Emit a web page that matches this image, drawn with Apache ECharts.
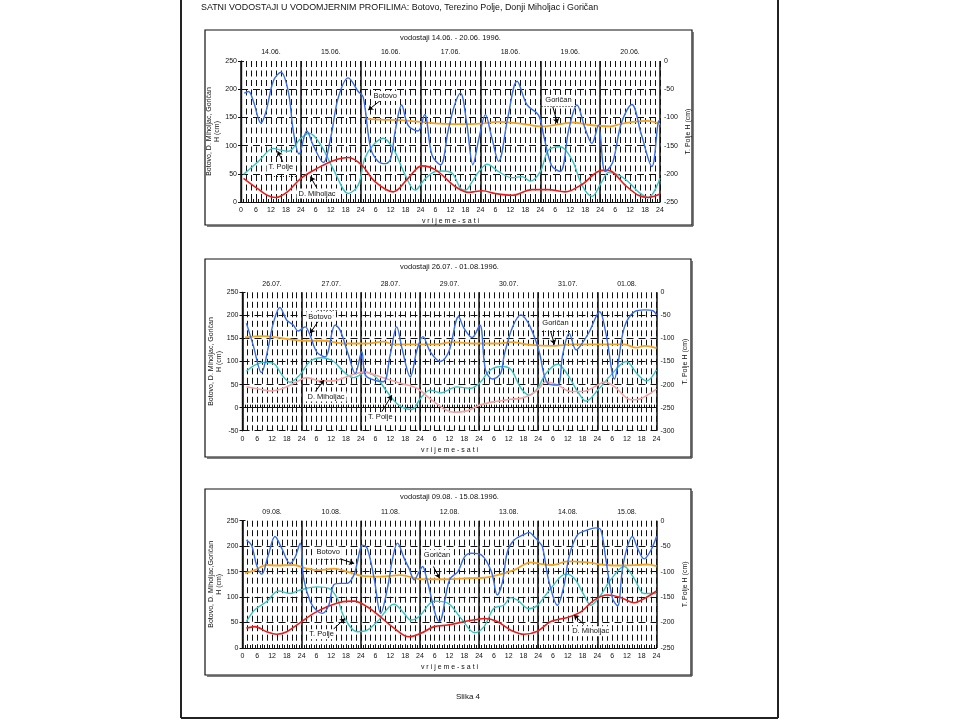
<!DOCTYPE html>
<html>
<head>
<meta charset="utf-8">
<script src="https://cdn.jsdelivr.net/npm/echarts@6/dist/echarts.min.js"></script>
<style>
  html, body { margin: 0; padding: 0; background: #fff; }
  #main { width: 958px; height: 720px; }
</style>
</head>
<body>
<div id="main"></div>
<script>
// tick labels / categories
const datesJun = ['14.06.', '15.06.', '16.06.', '17.06.', '18.06.', '19.06.', '20.06.'];
const datesJul = ['26.07.', '27.07.', '28.07.', '29.07.', '30.07.', '31.07.', '01.08.'];
const datesAug = ['09.08.', '10.08.', '11.08.', '12.08.', '13.08.', '14.08.', '15.08.'];

// [hour from start of week, H (cm)]
const botovoJun = [[1.3,193],[3,196],[5,178],[8,140],[10,160],[13,215],[16,230],[19,195],[21,125],[23.3,85],[26.4,126],[29,100],[33,70],[36,115],[39,185],[43,220],[47,196],[49,186],[52,95],[55,72],[58,68],[60,77],[62,130],[64.4,172],[67,136],[71,126],[73.6,155],[76.6,83],[80,66],[83,125],[85.5,170],[88,193],[90.5,140],[93,66],[95.5,115],[98,155],[100.5,115],[103.3,72],[107,150],[110.7,214],[114.7,172],[119.3,154],[121.5,115],[124.5,65],[128,54],[131.5,130],[134.7,172],[138,130],[140.7,104],[143.3,136],[146,54],[149,70],[152.5,140],[156.7,173],[160.5,120],[164.7,63],[167.3,142],[168,145]];
const goricanJun = [[49.5,148],[56,146],[64,145],[72,142],[80,139],[88,138],[96,139],[103,142],[112,139],[121,134],[128,138],[133,141],[139,137],[144,135],[148,134],[152,138],[157,142],[163,144],[168,138]];
const tpoljeJun = [[1,-201],[7,-178],[13,-155],[16,-158],[19,-160],[24,-137],[27.4,-128],[32,-149],[37.5,-196],[43,-235],[47,-220],[49.6,-173],[53,-149],[57,-137],[61,-155],[65.8,-202],[69.8,-229],[74,-208],[78,-196],[80.6,-195],[84.7,-199],[88,-226],[90,-229],[92.7,-214],[95.4,-196],[98.7,-183],[103.3,-196],[108.7,-207],[112.7,-205],[116,-213],[120,-196],[123.3,-158],[128,-152],[132.7,-175],[136.7,-220],[140.7,-240],[144.7,-214],[147.3,-198],[151.3,-202],[155.3,-214],[159.3,-232],[163.3,-242],[168,-208]];
const miholjacJun = [[1,42],[6.5,24],[10.5,12],[14,8],[18.6,18],[24,42],[30.7,60],[37.5,74],[43,79],[48.3,66],[53.7,36],[61,18],[67,42],[72.5,64],[78,57],[86,27],[91.4,17],[96.8,20],[102,15],[108.7,12],[116.7,22],[123.3,22],[130,18],[136.7,31],[144.7,56],[147.3,56],[154,30],[159.3,12],[163.3,8],[168,14]];

const botovoJul = [[1.6,183],[4.3,136],[7.7,76],[10.4,129],[12.5,183],[15.2,217],[17.9,190],[20.6,179],[22.6,166],[25.4,175],[27.4,157],[30.1,121],[33.5,110],[37.6,179],[39.6,168],[43,114],[45.7,74],[48.4,121],[49.8,71],[53.2,60],[57.2,56],[59.9,114],[62.6,175],[64.7,129],[68.1,67],[70.8,125],[73.2,154],[76.2,121],[80.3,100],[83.7,121],[87.7,197],[89.8,173],[93.2,152],[96.3,179],[98.6,82],[101.5,62],[104.7,74],[106.2,114],[109.6,175],[113,201],[115.7,186],[118.4,154],[120.4,121],[123.8,53],[127.9,49],[129.9,114],[132.6,161],[135.4,125],[137.4,136],[140.8,165],[144.9,208],[147.6,157],[151,62],[152.3,92],[155,175],[159.1,208],[163.2,212],[166.6,210],[168,201]];
const goricanJul = [[1,152],[8.4,155],[16.5,150],[24.7,145],[32.8,145],[41,139],[50.4,139],[57.2,143],[61.3,137],[70.8,137],[77.6,137],[85.7,142],[93.8,139],[103.5,139],[108.9,142],[117,136],[126.5,134],[133.3,137],[140.1,137],[149.6,137],[155,137],[159.8,130],[163.2,134],[168,129]];
const tpoljeJul = [[1.6,-171],[4.3,-160],[8.4,-152],[12.5,-154],[16,-179],[19.3,-195],[23.3,-179],[27.4,-150],[32,-142],[37,-150],[41,-172],[45,-185],[50.4,-173],[54.5,-186],[58.6,-215],[63.3,-244],[68.7,-254],[72.2,-230],[76.2,-212],[80.3,-218],[87,-205],[92.5,-208],[96.5,-195],[100.6,-168],[105.5,-161],[109,-168],[113,-208],[116.4,-223],[119.8,-208],[123.1,-176],[127.9,-156],[132,-179],[136,-215],[139.4,-236],[144.2,-212],[149.6,-179],[155.7,-150],[160.5,-179],[163.9,-192],[168,-168]];
const miholjacJul = [[1.6,45],[7,40],[11.8,36],[16.5,42],[22,56],[26,65],[31.5,58],[36.9,58],[42.3,67],[49.1,77],[55.9,67],[64,53],[70.8,42],[77.6,13],[85.7,-10],[91.1,-7],[96.5,6],[103.3,14],[108.9,18],[114.3,22],[119.7,38],[123.1,56],[127.9,49],[133.3,35],[138.1,35],[144.2,49],[146.9,56],[151,45],[157.7,17],[161.8,20],[168,40]];

const botovoAug = [[1.6,212],[3.7,202],[5.7,163],[7.8,145],[10.5,183],[13.2,219],[15.9,196],[19.3,166],[21.4,179],[23.4,206],[24.8,137],[27.5,91],[30.2,73],[32.3,68],[35,84],[37,124],[39.7,127],[42.5,127],[45.2,143],[46.5,166],[48.6,202],[50.6,196],[53.4,137],[56.1,68],[58.8,117],[60.8,173],[62.9,206],[65.6,176],[67.6,156],[69.7,134],[71.7,150],[73.1,160],[74.4,143],[79.9,52],[84,134],[87.4,150],[90.1,179],[92.8,186],[96.9,183],[101,150],[103.4,104],[105.5,130],[107.5,189],[110.2,212],[114.3,223],[116.3,227],[118.3,219],[120.4,208],[121.7,199],[124.4,130],[127.8,84],[130.5,124],[132.5,179],[135.9,222],[140,232],[143.4,236],[145.4,232],[147.4,176],[150.1,98],[152.2,83],[154.2,156],[156.2,199],[158.2,219],[160.3,196],[163,175],[165.7,192],[168,219]];
const goricanAug = [[1,147],[5,153],[9.8,163],[13.9,162],[20.7,163],[26.1,156],[31.6,153],[37,156],[42.5,150],[47.9,142],[56,140],[64.2,143],[72.4,135],[83.3,135],[91.5,137],[98,138],[103.4,143],[110.2,153],[117,168],[119.7,166],[125.8,163],[131.9,170],[140,168],[145.4,164],[152.2,162],[160.3,163],[164.3,164],[168,161]];
const tpoljeAug = [[1.6,-198],[5,-175],[9.8,-159],[14.6,-138],[19.3,-143],[23.4,-136],[30.2,-130],[35,-133],[38.4,-152],[41.1,-188],[46.5,-218],[50.6,-215],[54.7,-198],[61.5,-164],[65.6,-182],[68.3,-195],[71.7,-188],[77.8,-158],[83.3,-162],[88.7,-192],[94.2,-220],[98,-208],[102,-172],[106,-166],[108.9,-151],[111.6,-156],[116.3,-173],[119.7,-166],[125.1,-133],[131.2,-105],[134.6,-113],[138.6,-146],[141.3,-166],[145.4,-146],[149.4,-116],[154.9,-90],[158.9,-113],[163,-143],[168,-143]];
const miholjacAug = [[1.6,39],[5,42],[9.8,32],[13.9,27],[18,32],[23.4,50],[28.9,68],[34.3,81],[39.7,90],[45.2,92],[50.6,81],[56,61],[61.5,39],[67.6,22],[72.4,29],[77.8,42],[83.3,45],[90.1,52],[95,56],[98.3,58],[103.4,52],[108.9,35],[114.3,27],[119.7,33],[125.1,52],[131.9,60],[137.3,71],[142.7,94],[148.1,104],[153.5,99],[158.9,89],[163,97],[168,112]];

// station labels, arrows and dotted leaders, in left-axis units
const notesJun = [
  { text: 'Botovo', at: [57.8, 188], from: [56.2, 181], to: [51, 163] },
  { text: 'T. Polje', at: [16, 62], from: [16.8, 71], to: [14.7, 90], dots: [[12, 46], [22, 46]] },
  { text: 'D. Miholjac', at: [30.5, 15], from: [30.5, 24], to: [27.8, 45] },
  { text: 'Goričan', at: [127.3, 181], from: [125, 169], to: [126.9, 139.5], dots: [[120.5, 169], [134.5, 169]] }
];
const notesJul = [
  { text: 'Botovo', at: [31.4, 197], from: [30.8, 188], to: [27.4, 161], dots: [[30.5, 212], [38.5, 212]] },
  { text: 'D. Miholjac', at: [33.9, 24], from: [29.4, 34], to: [33.1, 60] },
  { text: 'T. Polje', at: [55.9, -21], from: [56.5, -9], to: [60.6, 27] },
  { text: 'Goričan', at: [127, 183], from: [125, 166], to: [126.6, 137], dots: [[121.5, 166], [136, 166]] }
];
const notesAug = [
  { text: 'Botovo', at: [34.8, 189], from: [39.6, 175], to: [45.3, 166], dots: [[30.8, 175], [39.6, 175]] },
  { text: 'Goričan', at: [78.9, 183], from: [77.5, 160], to: [80, 137] },
  { text: 'T. Polje', at: [32.1, 27], from: [36.9, 37], to: [41.6, 58] },
  { text: 'D. Miholjac', at: [141.3, 33], from: [138.6, 46], to: [134.5, 65] }
];

const FONT = '"Liberation Sans", Arial, sans-serif';
const BLUE = '#3a6ee8';
const ORANGE = '#f4a425';
const CYAN = '#3cc4c4';
const RED = '#ee1c1c';
const PINK = '#f5a3a3';

const panels = [
  {
    title: 'vodostaji 14.06. - 20.06. 1996.', dates: datesJun,
    leftName: 'Botovo, D. Miholjac, Goričan\nH (cm)',
    box: [205, 30, 487, 195], grid: { left: 241, top: 61, width: 419, height: 141 },
    leftMin: 0, rightMin: -250,
    botovo: botovoJun, gorican: goricanJun, tpolje: tpoljeJun, miholjac: miholjacJun,
    miholjacColor: RED, notes: notesJun
  },
  {
    title: 'vodostaji 26.07. - 01.08.1996.', dates: datesJul,
    leftName: 'Botovo, D. Miholjac, Goričan\nH (cm)',
    box: [205, 259, 486, 198], grid: { left: 242.5, top: 292.3, width: 414, height: 138.4 },
    leftMin: -50, rightMin: -300,
    botovo: botovoJul, gorican: goricanJul, tpolje: tpoljeJul, miholjac: miholjacJul,
    miholjacColor: PINK, notes: notesJul
  },
  {
    title: 'vodostaji 09.08. - 15.08.1996.', dates: datesAug,
    leftName: 'Botovo, D. Miholjac,Goričan\nH (cm)',
    box: [205, 489, 486, 186], grid: { left: 242.5, top: 520.7, width: 414, height: 127.3 },
    leftMin: 0, rightMin: -250,
    botovo: botovoAug, gorican: goricanAug, tpolje: tpoljeAug, miholjac: miholjacAug,
    miholjacColor: RED, notes: notesAug
  }
];

const hourLabel = (v) => (v === 0 ? '0' : String(v % 24 === 0 ? 24 : v % 24));
const small = { fontFamily: FONT, fontSize: 7, color: '#111' };

const grids = [];
const xAxes = [];
const yAxes = [];
const series = [];
const graphics = [
  { type: 'line', shape: { x1: 181, y1: 0, x2: 181, y2: 718 }, style: { stroke: '#222', lineWidth: 2 } },
  { type: 'line', shape: { x1: 778, y1: 0, x2: 778, y2: 718 }, style: { stroke: '#222', lineWidth: 2 } },
  { type: 'line', shape: { x1: 181, y1: 718, x2: 778, y2: 718 }, style: { stroke: '#222', lineWidth: 2 } },
  {
    type: 'text', left: 201, top: 3,
    style: { text: 'SATNI VODOSTAJI U VODOMJERNIM PROFILIMA: Botovo, Terezino Polje, Donji Miholjac i Goričan', font: '8.9px ' + FONT, fill: '#111' }
  },
  {
    type: 'text', x: 468, y: 697,
    style: { text: 'Slika 4', font: '8px ' + FONT, fill: '#111', textAlign: 'center', textVerticalAlign: 'middle' }
  }
];

panels.forEach((p, i) => {
  const [bx, by, bw, bh] = p.box;
  graphics.push(
    { type: 'rect', shape: { x: bx, y: by, width: bw, height: bh }, style: { fill: null, stroke: '#111', lineWidth: 1.2 } },
    { type: 'line', shape: { x1: bx + bw + 1, y1: by + 2, x2: bx + bw + 1, y2: by + bh + 1 }, style: { stroke: '#555', lineWidth: 1.5 } },
    { type: 'line', shape: { x1: bx + 2, y1: by + bh + 1, x2: bx + bw + 1, y2: by + bh + 1 }, style: { stroke: '#555', lineWidth: 1.5 } },
    {
      type: 'text', x: p.grid.left + p.grid.width / 2, y: by + 8,
      style: { text: p.title, font: '7.5px ' + FONT, fill: '#111', textAlign: 'center', textVerticalAlign: 'middle' }
    }
  );

  grids.push(Object.assign({ containLabel: false }, p.grid));

  const base = { type: 'value', gridIndex: i, min: 0, max: 168 };
  // visible hour axis
  xAxes.push(Object.assign({}, base, {
    position: 'bottom', interval: 6,
    name: 'v r i j e m e - s a t i', nameLocation: 'middle', nameGap: 16,
    nameTextStyle: { fontFamily: FONT, fontSize: 7, color: '#111' },
    axisLine: { lineStyle: { color: '#111', width: 1.2 } },
    axisTick: { show: true, inside: true, length: 3, lineStyle: { color: '#111' } },
    minorTick: { show: true, splitNumber: 6, length: 3, lineStyle: { color: '#111' } },
    axisLabel: Object.assign({ formatter: hourLabel, margin: 5 }, small),
    splitLine: { show: false }
  }));
  // 2-hour dashed verticals
  xAxes.push(Object.assign({}, base, {
    position: 'bottom', interval: 2,
    axisLine: { show: false }, axisTick: { show: false }, axisLabel: { show: false },
    splitLine: { show: true, lineStyle: { color: '#111', width: 1, type: [6, 3.5] } }
  }));
  // day boundaries
  xAxes.push(Object.assign({}, base, {
    position: 'bottom', interval: 24,
    axisLine: { show: false }, axisTick: { show: false }, axisLabel: { show: false },
    splitLine: { show: true, lineStyle: { color: '#111', width: 1.5, type: 'solid' } }
  }));
  // dates on top
  xAxes.push({
    type: 'category', gridIndex: i, position: 'top', data: p.dates, boundaryGap: true,
    axisLine: { show: false }, axisTick: { show: false }, splitLine: { show: false },
    axisLabel: Object.assign({ interval: 0, margin: 5 }, small)
  });

  yAxes.push({
    type: 'value', gridIndex: i, position: 'left', min: p.leftMin, max: 250, interval: 50,
    name: p.leftName, nameLocation: 'middle', nameGap: 18, nameRotate: 90,
    nameTextStyle: { fontFamily: FONT, fontSize: 7, color: '#111', lineHeight: 8 },
    axisLine: { show: true, lineStyle: { color: '#111', width: 1.2 } },
    axisTick: { show: true, length: 3, lineStyle: { color: '#111' } },
    axisLabel: Object.assign({ margin: 4 }, small),
    splitLine: { show: true, showMaxLine: false, lineStyle: { color: '#111', width: 1, type: [7, 5] } }
  });
  yAxes.push({
    type: 'value', gridIndex: i, position: 'right', min: p.rightMin, max: 0, interval: 50,
    name: 'T. Polje H (cm)', nameLocation: 'middle', nameGap: 25, nameRotate: 90,
    nameTextStyle: { fontFamily: FONT, fontSize: 7, color: '#111' },
    axisLine: { show: true, lineStyle: { color: '#111', width: 1.2 } },
    axisTick: { show: true, length: 3, lineStyle: { color: '#111' } },
    axisLabel: Object.assign({ margin: 4 }, small),
    splitLine: { show: false }
  });

  const xi = i * 4;
  const line = (name, data, color, width, yi, extra) => Object.assign({
    type: 'line', name, data, xAxisIndex: xi, yAxisIndex: yi,
    smooth: 0.35, showSymbol: false, symbol: 'none', silent: true,
    lineStyle: { color, width }, itemStyle: { color }, z: 3
  }, extra || {});

  const arrows = p.notes.map((n) => [{ coord: n.from }, { coord: n.to }]);
  const leaders = p.notes.filter((n) => n.dots).map((n) => [
    { coord: n.dots[0], symbol: 'none', lineStyle: { type: [1, 2], width: 1, color: '#111' } },
    { coord: n.dots[1], symbol: 'none', lineStyle: { type: [1, 2], width: 1, color: '#111' } }
  ]);

  series.push(line('T. Polje', p.tpolje, CYAN, 1.4, i * 2 + 1));
  series.push(line('D. Miholjac', p.miholjac, p.miholjacColor, 1.6, i * 2));
  series.push(line('Goričan', p.gorican, ORANGE, 1.8, i * 2));
  series.push(line('Botovo', p.botovo, BLUE, 1.4, i * 2, {
    markLine: {
      silent: true, animation: false, symbol: ['none', 'arrow'], symbolSize: 5,
      lineStyle: { color: '#000', width: 1, type: 'solid' },
      label: { show: false },
      data: arrows.concat(leaders)
    },
    markPoint: {
      silent: true, animation: false, symbol: 'rect', symbolSize: 1,
      itemStyle: { color: 'rgba(0,0,0,0)' },
      label: {
        show: true, position: 'inside', formatter: '{b}', fontFamily: FONT, fontSize: 7.5, color: '#111',
        backgroundColor: '#fff', padding: [1, 2]
      },
      data: p.notes.map((n) => ({ name: n.text, coord: n.at }))
    }
  }));
});

const chart = echarts.init(document.getElementById('main'), null, { renderer: 'canvas' });
chart.setOption({
  backgroundColor: '#fff',
  animation: false,
  grid: grids,
  xAxis: xAxes,
  yAxis: yAxes,
  series,
  graphic: graphics
});
</script>
</body>
</html>
